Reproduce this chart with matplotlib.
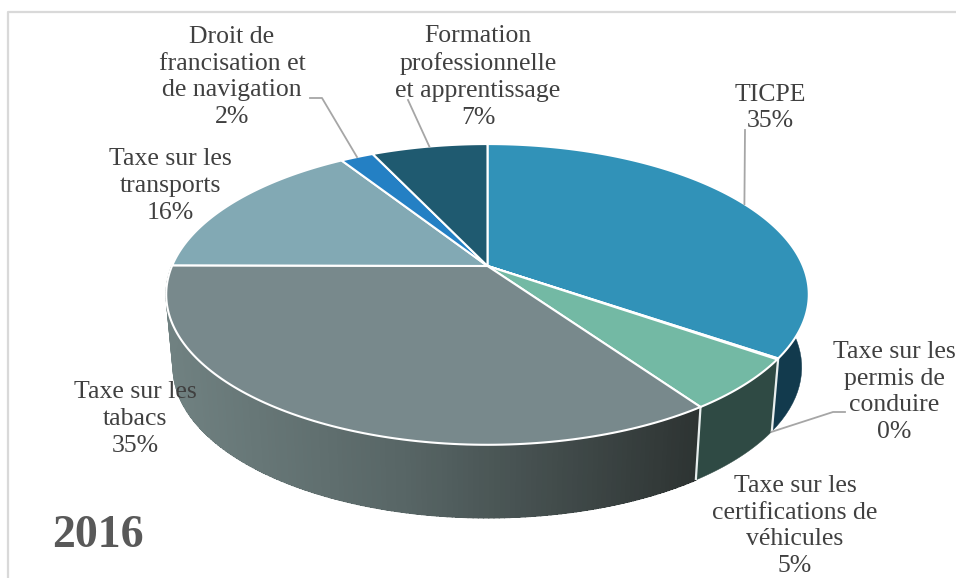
#!/usr/bin/env python
# -*- coding: utf-8 -*-
import numpy as np
import matplotlib
matplotlib.use('Agg')
from matplotlib import pylab as plt

labels = ['TICPE',
          'Taxe sur les\npermis de\nconduire',
          'Taxe sur les\ncertifications de\nvéhicules',
          'Taxe sur les\ntabacs',
          'Taxe sur les\ntransports',
          'Droit de\nfrancisation et\nde navigation',
          'Formation\nprofessionnelle\net apprentissage']
shares = [34.6, 0.1, 5.6, 34.7, 15.9, 2.0, 7.0]
pct_labels = ['35%', '0%', '5%', '35%', '16%', '2%', '7%']
top_colors = ['#3192b8', '#4f8f9a', '#73b9a4', '#78898c', '#82a9b4', '#2480c4', '#1f5a70']
side_colors = ['#123a4d', '#2a4a50', '#2f4a44', None, None, None, None]

# pie geometry in pixels, with a bit of perspective
CX, CY = 487.5, 266
RX, RY = 315.5, 145
PERSP = 0.189
DEPTH = 73
BOTTOM_SHRINK = 0.978


def project(frac, bottom=False):
    # frac is the share of the turn, clockwise from the top of the pie
    a = 2 * np.pi * np.asarray(frac, dtype=float)
    x, y = np.sin(a), np.cos(a)
    w = 1 + PERSP * y
    sx, sy = RX * x / w, -RY * y / w
    if bottom:
        return CX + sx * BOTTOM_SHRINK, CY + sy + DEPTH
    return CX + sx, CY + sy


fig = plt.figure(figsize=(9.56, 5.78), dpi=100)
ax = fig.add_axes([0, 0, 1, 1])
ax.set_xlim(0, 956)
ax.set_ylim(578, 0)
ax.axis('off')
plt.rcParams['font.family'] = ['Liberation Serif', 'DejaVu Serif']

# card border
ax.plot([8, 8, 956], [578, 12, 12], color='#d9d9d9', lw=1.6, zorder=1)

shares = np.array(shares) / np.sum(shares)
edges = np.concatenate([[0], np.cumsum(shares)])

# sides: one shade per wedge on the right, a grey gradient along the tabacs wedge
for i in [0, 1, 2]:
    t = np.linspace(edges[i], edges[i + 1], 60)
    t = t[t >= 0.24] if t[0] < 0.24 else t
    xt, yt = project(t)
    xb, yb = project(t, bottom=True)
    ax.fill(np.r_[xt, xb[::-1]], np.r_[yt, yb[::-1]], color=side_colors[i], lw=0.3, zorder=2)

t = np.linspace(edges[3], edges[4], 160)
grad_left = np.array([0x70, 0x81, 0x81]) / 255
grad_mid = np.array([0x57, 0x65, 0x65]) / 255
grad_right = np.array([0x2d, 0x33, 0x32]) / 255
for a, b in zip(t[:-1], t[1:]):
    xt, yt = project([a, b])
    xb, yb = project([a, b], bottom=True)
    p = (xt.mean() - 167) / (700 - 167)
    c = grad_left + (grad_mid - grad_left) * p / 0.45 if p < 0.45 else grad_mid + (grad_right - grad_mid) * (p - 0.45) / 0.55
    c = np.clip(c, 0, 1)
    ax.fill(np.r_[xt, xb[::-1]], np.r_[yt, yb[::-1]], color=c, lw=0, antialiased=False, zorder=2)
    ax.plot(np.r_[xt, xb[::-1]], np.r_[yt, yb[::-1]], color=c, lw=1.0, zorder=2)

# white joints on the side
for f in [edges[1], edges[3]]:
    xt, yt = project(f)
    xb, yb = project(f, bottom=True)
    ax.plot([xt, xb], [yt, yb], color='#e8eeee', lw=1.6, zorder=3, solid_capstyle='butt')

# top face
for i in range(len(shares)):
    t = np.linspace(edges[i], edges[i + 1], 120)
    xt, yt = project(t)
    ax.fill(np.r_[CX, xt], np.r_[CY, yt], facecolor=top_colors[i], edgecolor='white',
            lw=1.5, joinstyle='round', zorder=4)

# leader lines, the pie end comes from the wedge itself
mids = (edges[:-1] + edges[1:]) / 2
leader_col = '#a6a6a6'
x, y = project(mids[0])
ax.plot([745, x], [130, y], color=leader_col, lw=1.3, zorder=5)
x, y = project(mids[5])
ax.plot([310, 322, x], [98, 98, y], color=leader_col, lw=1.3, zorder=5)
x, y = project(mids[6])
ax.plot([408, x], [100, y], color=leader_col, lw=1.3, zorder=5)
x, y = project(mids[1], bottom=True)
ax.plot([x, 833, 845], [y, 412, 412], color=leader_col, lw=1.3, zorder=5)

# data labels
label_pos = [(770, 108), (894, 392), (795, 526), (135, 419), (170, 186), (232, 77), (478, 77)]
for name, pct, (lx, ly) in zip(labels, pct_labels, label_pos):
    ax.text(lx, ly, name + '\n' + pct, ha='center', va='center', fontsize=18.5,
            color='#404040', linespacing=1.28, zorder=6)

ax.text(52, 536, '2016', ha='left', va='center', fontsize=33, fontweight='bold',
        color='#595959', zorder=6)

plt.savefig('out.png', dpi=100)
